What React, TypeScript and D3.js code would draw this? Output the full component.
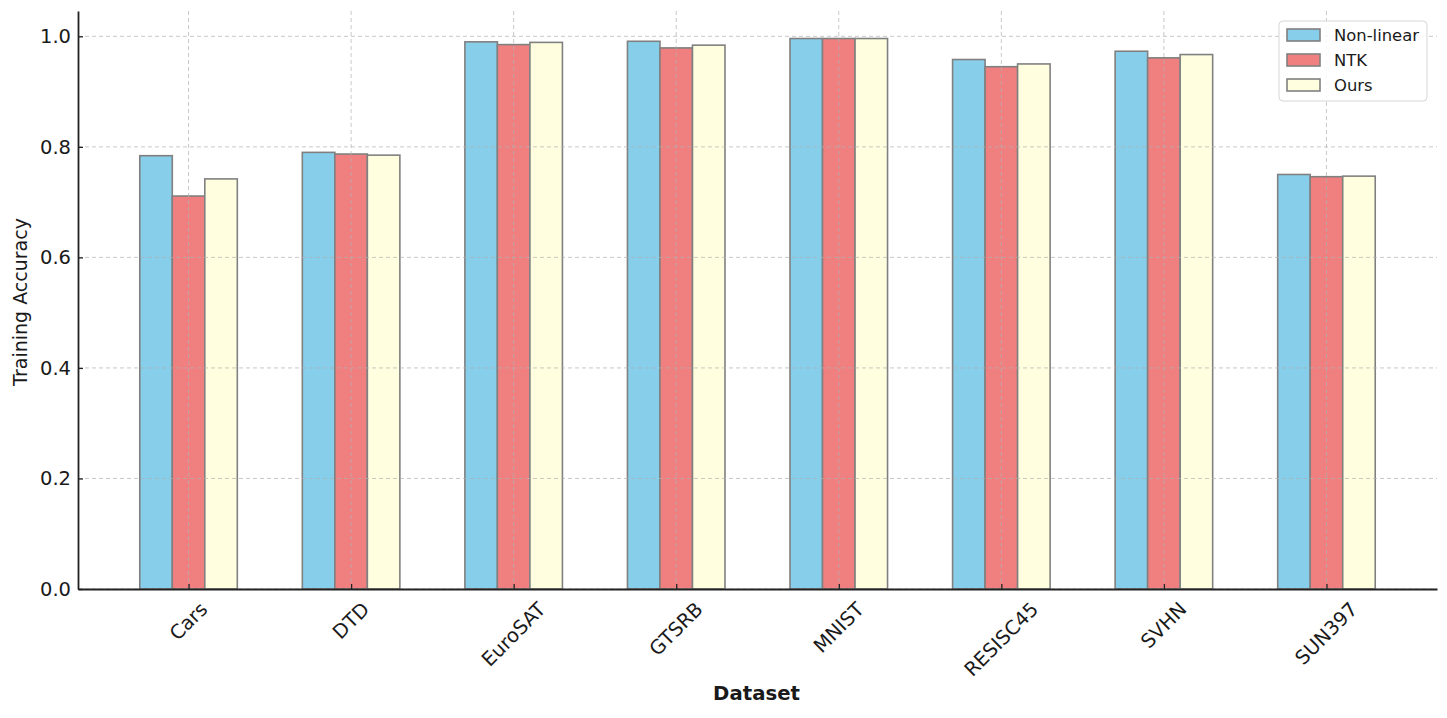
import { useEffect, useRef } from "react";
import * as d3 from "d3";

const datasets = ["Cars", "DTD", "EuroSAT", "GTSRB", "MNIST", "RESISC45", "SVHN", "SUN397"];
const nonLinear = [0.784, 0.79, 0.99, 0.991, 0.996, 0.958, 0.973, 0.75];
const ntk = [0.711, 0.787, 0.985, 0.979, 0.996, 0.945, 0.961, 0.746];
const ours = [0.742, 0.785, 0.989, 0.984, 0.996, 0.95, 0.967, 0.747];
const yTicks = [0, 0.2, 0.4, 0.6, 0.8, 1.0];

const seriesNames = ["Non-linear", "NTK", "Ours"];
const seriesColors = ["#87ceeb", "#f08080", "#ffffe0"];

const W = 1447;
const H = 718;
const MARGIN = { top: 11, right: 10, bottom: 129, left: 78 };
const FONT = "DejaVu Sans, sans-serif";

export default function App() {
  const svgRef = useRef<SVGSVGElement>(null);

  useEffect(() => {
    if (!svgRef.current) return;
    const svg = d3.select(svgRef.current);
    svg.selectAll("*").remove();

    const innerW = W - MARGIN.left - MARGIN.right;
    const innerH = H - MARGIN.top - MARGIN.bottom;
    const series = [nonLinear, ntk, ours];
    const barW = 0.2;

    // category index -> px, matplotlib-style 5% margins
    const lo = -0.3 - 0.38;
    const hi = datasets.length - 1 + 0.3 + 0.38;
    const x = d3.scaleLinear().domain([lo, hi]).range([0, innerW]);
    const yMax = d3.max([...nonLinear, ...ntk, ...ours])! * 1.05;
    const y = d3.scaleLinear().domain([0, yMax]).range([innerH, 0]);

    const g = svg.append("g").attr("transform", `translate(${MARGIN.left},${MARGIN.top})`);

    // Bars
    series.forEach((vals, si) => {
      g.append("g")
        .selectAll("rect")
        .data(vals)
        .join("rect")
        .attr("x", (_, i) => x(i + (si - 1) * barW - barW / 2))
        .attr("width", x(barW) - x(0))
        .attr("y", (d) => y(d))
        .attr("height", (d) => innerH - y(d))
        .attr("fill", seriesColors[si])
        .attr("stroke", "#808080")
        .attr("stroke-width", 1.6);
    });

    // Grid (drawn over bars, faint)
    const grid = g.append("g").attr("stroke", "#b0b0b0").attr("stroke-opacity", 0.7)
      .attr("stroke-width", 1).attr("stroke-dasharray", "4,3");
    grid.selectAll("line.h").data(yTicks).join("line")
      .attr("x1", 0).attr("x2", innerW)
      .attr("y1", (d) => y(d)).attr("y2", (d) => y(d));
    grid.selectAll("line.v").data(datasets).join("line")
      .attr("x1", (_, i) => x(i)).attr("x2", (_, i) => x(i))
      .attr("y1", 0).attr("y2", innerH);

    // Y axis
    const yAxis = g.append("g")
      .call(d3.axisLeft(y).tickValues(yTicks).tickFormat(d3.format(".1f")).tickSizeInner(-5).tickSizeOuter(0).tickPadding(7));
    yAxis.select(".domain").attr("stroke", "#222").attr("stroke-width", 1.8);
    yAxis.selectAll(".tick line").attr("stroke", "#222").attr("stroke-width", 1.3);
    yAxis.selectAll("text").attr("font-family", FONT).attr("font-size", 19.5).attr("fill", "#1a1a1a");

    // X axis
    const xAxis = g.append("g").attr("transform", `translate(0,${innerH})`)
      .call(d3.axisBottom(x).tickValues(d3.range(datasets.length)).tickFormat(() => "").tickSizeInner(-5).tickSizeOuter(0));
    xAxis.select(".domain").attr("stroke", "#222").attr("stroke-width", 1.8);
    xAxis.selectAll(".tick line").attr("stroke", "#222").attr("stroke-width", 1.3);

    // Rotated category labels, centred on tick
    const labels = g.append("g");
    datasets.forEach((name, i) => {
      const t = labels.append("text")
        .attr("font-family", FONT).attr("font-size", 19.5).attr("fill", "#1a1a1a")
        .attr("text-anchor", "middle").attr("dominant-baseline", "central")
        .text(name);
      const w = (t.node() as SVGTextElement).getComputedTextLength();
      const h = 14;
      const cy = innerH + 12 + (w + h) / (2 * Math.SQRT2);
      t.attr("transform", `translate(${x(i)},${cy}) rotate(-45)`);
    });

    // Axis titles
    g.append("text")
      .attr("x", innerW / 2 - 1).attr("y", innerH + 111)
      .attr("text-anchor", "middle").attr("font-family", FONT).attr("font-size", 19.7)
      .attr("font-weight", "bold").attr("fill", "#1a1a1a").text("Dataset");
    g.append("text")
      .attr("transform", `translate(${-51},${innerH / 2 + 2}) rotate(-90)`)
      .attr("text-anchor", "middle").attr("font-family", FONT).attr("font-size", 19)
      .attr("fill", "#1a1a1a").text("Training Accuracy");

    // Legend
    const lg = svg.append("g").attr("transform", "translate(1279,21)");
    lg.append("rect").attr("width", 148).attr("height", 80).attr("rx", 4)
      .attr("fill", "white").attr("fill-opacity", 0.85).attr("stroke", "#d6d6d6");
    seriesNames.forEach((name, i) => {
      const row = lg.append("g").attr("transform", `translate(8,${14 + i * 25})`);
      row.append("rect").attr("y", -6).attr("width", 33).attr("height", 12)
        .attr("fill", seriesColors[i]).attr("stroke", "#808080").attr("stroke-width", 1.6);
      row.append("text").attr("x", 47).attr("dominant-baseline", "central")
        .attr("font-family", FONT).attr("font-size", 16.4).attr("fill", "#1a1a1a").text(name);
    });
  }, []);

  return (
    <svg ref={svgRef} width={W} height={H}
      style={{ position: "absolute", left: 0, top: 0, background: "white" }} />
  );
}
